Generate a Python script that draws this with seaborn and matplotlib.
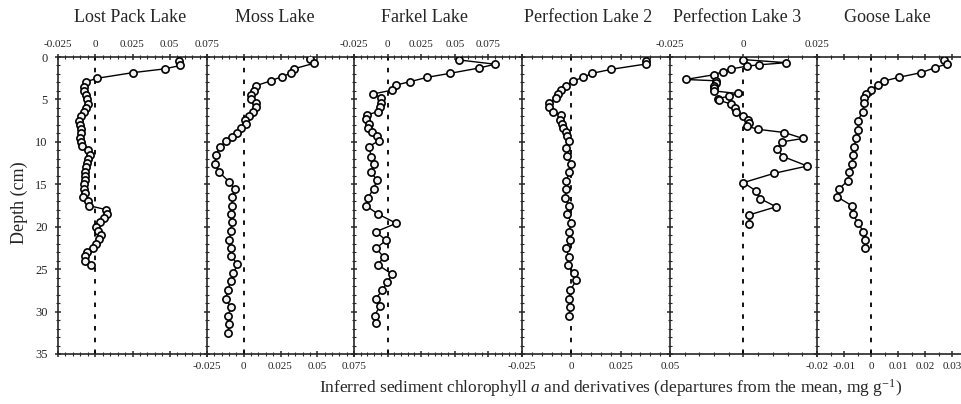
import pandas as pd
import matplotlib
matplotlib.use("Agg")
import matplotlib.pyplot as plt
from matplotlib.ticker import MultipleLocator
import seaborn as sns

# Lake names and chart text
lakes = ["Lost Pack Lake", "Moss Lake", "Farkel Lake",
         "Perfection Lake 2", "Perfection Lake 3", "Goose Lake"]

# Depth (cm) and departures from the mean (mg g-1)
lost_pack_depth = [0.5, 1.0, 1.4, 1.85, 2.5, 2.9, 3.5, 4.0, 4.5, 5.0, 5.5, 6.0, 6.5, 7.0,
                   7.5, 8.0, 8.5, 9.0, 9.5, 10.0, 10.5, 11.0, 11.5, 12.0, 12.5, 13.0, 13.5,
                   14.0, 14.5, 15.0, 15.5, 16.0, 16.5, 17.0, 17.5, 18.0, 18.5, 19.0, 19.5,
                   20.0, 20.5, 21.0, 21.5, 22.0, 22.5, 23.0, 23.5, 24.0, 24.5]
lost_pack_val = [0.0565, 0.0570, 0.0465, 0.0250, 0.0015, -0.0060, -0.0076, -0.0075, -0.0065,
                 -0.0053, -0.0048, -0.0065, -0.0078, -0.0095, -0.0110, -0.0104, -0.0098,
                 -0.0098, -0.0102, -0.0093, -0.0088, -0.0050, -0.0038, -0.0049, -0.0058,
                 -0.0060, -0.0066, -0.0067, -0.0071, -0.0075, -0.0076, -0.0070, -0.0082,
                 -0.0049, -0.0044, 0.0075, 0.0080, 0.0060, 0.0030, 0.0008, 0.0020, 0.0036,
                 0.0022, 0.0008, -0.0016, -0.0055, -0.0072, -0.0070, -0.0027]

moss_depth = [0.25, 0.75, 1.4, 1.9, 2.3, 2.8, 3.4, 3.95, 4.45, 4.95, 5.45, 5.9, 6.45, 6.9,
              7.4, 7.9, 8.4, 8.9, 9.4, 9.9, 10.55, 11.5, 12.6, 13.6, 14.7, 15.6, 16.55,
              17.55, 18.5, 19.5, 20.55, 21.55, 22.5, 23.5, 24.4, 25.5, 26.45, 27.5, 28.5,
              29.5, 30.5, 31.5, 32.5]
moss_val = [0.0454, 0.0476, 0.0340, 0.0322, 0.0260, 0.0186, 0.0080, 0.0068, 0.0050, 0.0050,
            0.0086, 0.0086, 0.0064, 0.0034, 0.0007, 0.0016, -0.0016, -0.0045, -0.0079,
            -0.0118, -0.0160, -0.0188, -0.0197, -0.0165, -0.0100, -0.0061, -0.0079, -0.0079,
            -0.0090, -0.0080, -0.0090, -0.0097, -0.0090, -0.0084, -0.0043, -0.0070, -0.0090,
            -0.0110, -0.0122, -0.0088, -0.0107, -0.0100, -0.0108]

farkel_depth = [0.35, 0.85, 1.3, 1.92, 2.4, 2.9, 3.3, 3.9, 4.36, 4.8, 5.4, 5.85, 6.44, 6.83,
                7.34, 7.9, 8.4, 8.8, 9.3, 9.85, 10.56, 11.74, 12.6, 13.6, 14.5, 15.5, 16.6,
                17.55, 18.5, 19.6, 20.6, 21.6, 22.5, 23.6, 24.5, 25.6, 26.5, 27.5, 28.5,
                29.4, 30.5, 31.4]
farkel_val = [0.0532, 0.0800, 0.0680, 0.0466, 0.0293, 0.0169, 0.0064, 0.0035, -0.0109,
              -0.0047, -0.0052, -0.0055, -0.0072, -0.0154, -0.0159, -0.0139, -0.0146,
              -0.0114, -0.0079, -0.0064, -0.0139, -0.0122, -0.0104, -0.0122, -0.0079,
              -0.0104, -0.0146, -0.0159, -0.0072, 0.0065, -0.0089, -0.0010, -0.0084,
              -0.0030, -0.0072, 0.0035, -0.0002, -0.0040, -0.0089, -0.0060, -0.0097, -0.0089]

perf2_depth = [0.43, 0.82, 1.45, 1.92, 2.4, 2.83, 3.4, 3.9, 4.4, 4.87, 5.4, 5.85, 6.44, 6.83,
               7.4, 7.9, 8.4, 8.8, 9.3, 9.85, 10.76, 11.66, 12.64, 13.6, 14.6, 15.6, 16.6,
               17.55, 18.5, 19.6, 20.6, 21.55, 22.5, 23.6, 24.5, 25.5, 26.3, 27.5, 28.5,
               29.5, 30.5]
perf2_val = [0.0380, 0.0380, 0.0203, 0.0106, 0.0059, 0.0008, -0.0029, -0.0054, -0.0068,
             -0.0079, -0.0115, -0.0115, -0.0093, -0.0054, -0.0059, -0.0047, -0.0042, -0.0029,
             -0.0020, -0.0012, -0.0025, -0.0022, 0.0000, -0.0012, -0.0025, -0.0029, -0.0030,
             -0.0012, -0.0020, 0.0000, -0.0014, -0.0008, -0.0025, -0.0014, -0.0017, 0.0014,
             0.0025, -0.0005, -0.0012, -0.0005, -0.0012]

perf3_depth = [0.3, 0.67, 0.92, 1.08, 1.41, 1.73, 2.1, 2.65, 2.8, 3.1, 3.4, 3.7, 4.0, 4.3,
               4.6, 4.9, 5.1, 5.55, 6.05, 6.44, 6.9, 7.4, 7.75, 8.15, 8.52, 8.9, 9.6, 10.0,
               10.85, 11.75, 12.85, 13.7, 14.8, 15.75, 16.7, 17.65, 18.6, 19.65]
perf3_val = [-0.0003, 0.0145, 0.0054, 0.0011, -0.0042, -0.0070, -0.0102, -0.0197, -0.0095,
             -0.0093, -0.0099, -0.0101, -0.0100, -0.0019, -0.0048, -0.0087, -0.0083, -0.0042,
             -0.0030, -0.0025, -0.0002, 0.0015, 0.0020, 0.0012, 0.0049, 0.0139, 0.0202,
             0.0132, 0.0113, 0.0136, 0.0217, 0.0105, 0.0000, 0.0041, 0.0057, 0.0111, 0.0020,
             0.0020]

goose_depth = [0.35, 0.82, 1.26, 1.85, 2.4, 2.83, 3.3, 3.9, 4.36, 4.8, 5.46, 6.44, 7.54, 8.6,
               9.58, 10.56, 11.54, 12.6, 13.6, 14.57, 15.6, 16.45, 17.5, 18.5, 19.6, 20.6,
               21.55, 22.5]
goose_val = [0.0269, 0.0281, 0.0237, 0.0185, 0.0102, 0.0049, 0.0025, 0.0000, -0.0019,
             -0.0027, -0.0025, -0.0031, -0.0049, -0.0047, -0.0056, -0.0062, -0.0068, -0.0070,
             -0.0080, -0.0086, -0.0120, -0.0127, -0.0072, -0.0068, -0.0047, -0.0028, -0.0021,
             -0.0022]

depths = [lost_pack_depth, moss_depth, farkel_depth, perf2_depth, perf3_depth, goose_depth]
values = [lost_pack_val, moss_val, farkel_val, perf2_val, perf3_val, goose_val]

# x axis settings per panel
x_limits = [(-0.025, 0.075), (-0.025, 0.075), (-0.025, 0.1),
            (-0.025, 0.05), (-0.025, 0.025), (-0.02, 0.0337)]
x_ticks = [[-0.025, 0, 0.025, 0.05, 0.075],
           [-0.025, 0, 0.025, 0.05, 0.075],
           [-0.025, 0, 0.025, 0.05, 0.075, 0.1],
           [-0.025, 0, 0.025, 0.05],
           [-0.025, 0, 0.025],
           [-0.02, -0.01, 0, 0.01, 0.02, 0.03]]
x_labels = [["-0.025", "0", "0.025", "0.05", "0.075"],
            ["-0.025", "0", "0.025", "0.05", "0.075"],
            ["-0.025", "0", "0.025", "0.05", "0.075", ""],
            ["-0.025", "0", "0.025", "0.05"],
            ["-0.025", "0", "0.025"],
            ["-0.02", "-0.01", "0", "0.01", "0.02", "0.03"]]
labels_on_top = [True, False, True, False, True, False]

df = pd.concat([pd.DataFrame({"lake": n, "depth": d, "value": v})
                for n, d, v in zip(lakes, depths, values)], ignore_index=True)

sns.set_style("ticks")
plt.rcParams["font.family"] = ["Liberation Serif", "DejaVu Serif"]
plt.rcParams["mathtext.fontset"] = "custom"
plt.rcParams["mathtext.rm"] = "Liberation Serif"
plt.rcParams["mathtext.it"] = "Liberation Serif:italic"
plt.rcParams["axes.unicode_minus"] = False

fig = plt.figure(figsize=(9.62, 4.04), dpi=100)

# panel edges in pixels
edges = [58, 207, 354, 522, 670, 817, 962]
title_x = [130, 275, 425, 588, 737, 887]
W, H = 962.0, 404.0
top_px, bot_px = 57, 354

for i, lake in enumerate(lakes):
    ax = fig.add_axes([edges[i] / W, 1 - bot_px / H,
                       (edges[i + 1] - edges[i]) / W, (bot_px - top_px) / H])
    sub = df[df["lake"] == lake]
    ax.axvline(0, color="black", lw=1.3, ls=(0, (2.5, 4)), zorder=1)
    sns.lineplot(data=sub, x="value", y="depth", sort=False, estimator=None,
                 color="black", lw=1.0, marker="o", markersize=5.2,
                 markerfacecolor="#f2f2f2", markeredgecolor="black",
                 markeredgewidth=1.2, ax=ax, zorder=3)
    ax.set_xlim(*x_limits[i])
    ax.set_ylim(35, 0)
    ax.set_xticks(x_ticks[i], x_labels[i])
    ax.xaxis.set_minor_locator(MultipleLocator(0.005))
    ax.yaxis.set_major_locator(MultipleLocator(5))
    ax.yaxis.set_minor_locator(MultipleLocator(1))
    ax.set_xlabel("")
    ax.set_ylabel("")
    ax.spines["right"].set_visible(False)
    for s in ["left", "top", "bottom"]:
        ax.spines[s].set_linewidth(1.2)
    ax.tick_params(which="major", direction="inout", length=5, width=1.1,
                   top=True, bottom=True, left=True, right=False,
                   labelsize=8, pad=3)
    ax.tick_params(which="minor", direction="inout", length=3, width=0.8,
                   top=True, bottom=True, left=True, right=False)
    ax.tick_params(axis="x", labeltop=labels_on_top[i],
                   labelbottom=not labels_on_top[i])
    if i == 0:
        ax.tick_params(axis="y", labelleft=True, labelsize=9, pad=5)
    else:
        ax.tick_params(axis="y", labelleft=False)
    fig.text(title_x[i] / W, 1 - 18 / H, lake, ha="center", va="center", fontsize=13)

fig.text(19 / W, 1 - 203 / H, "Depth (cm)", rotation=90, ha="center", va="center",
         fontsize=13)
fig.text(611 / W, 1 - 388 / H,
         r"Inferred sediment chlorophyll $\mathit{a}$ and derivatives "
         r"(departures from the mean, mg g$^{\mathrm{-1}}$)",
         ha="center", va="center", fontsize=12.5)

fig.savefig("out.png", dpi=100, facecolor="white")
